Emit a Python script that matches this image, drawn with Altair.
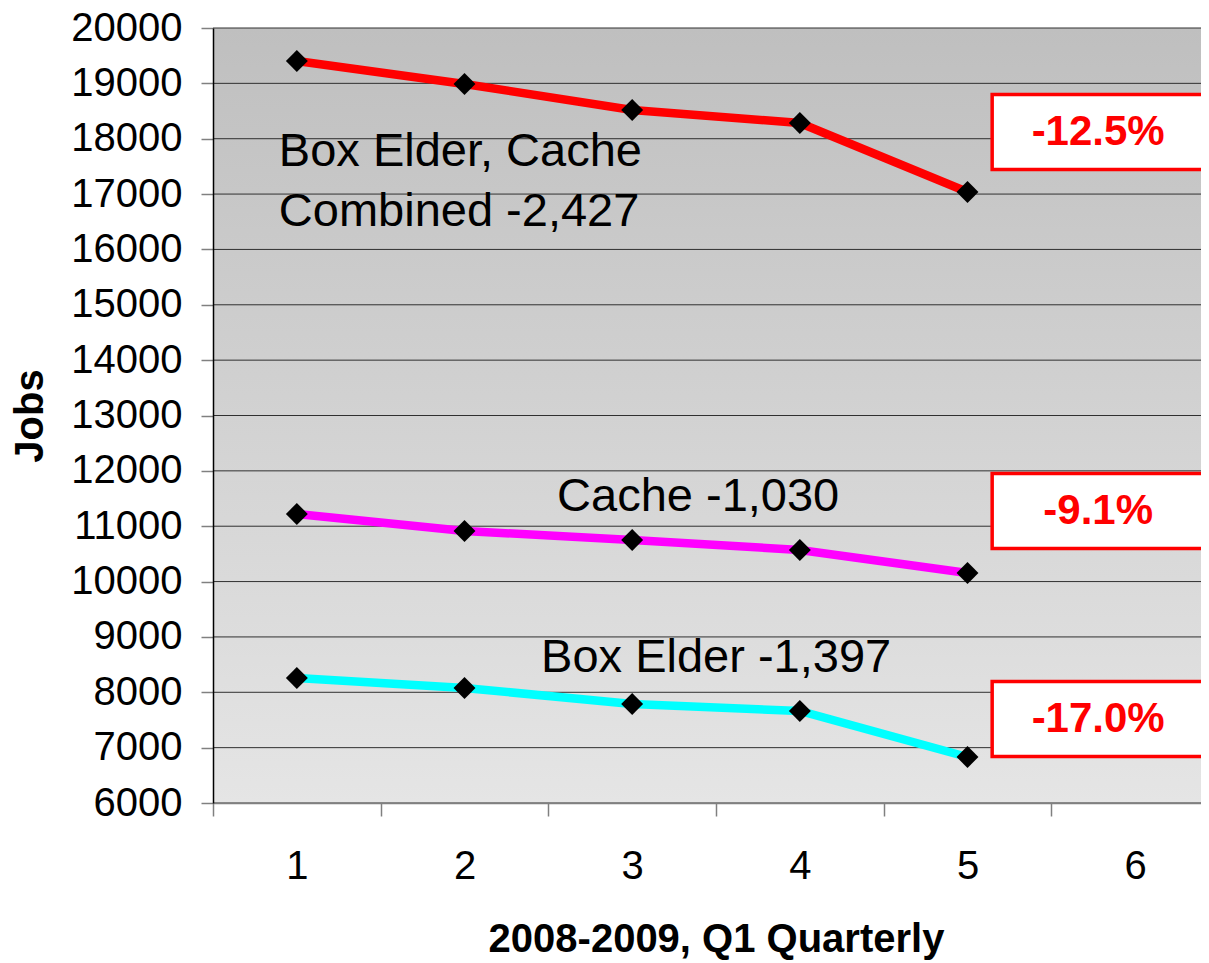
import altair as alt
import pandas as pd

# ---- data ----
x_domain = ["1", "2", "3", "4", "5", "6"]
quarters = ["1", "2", "3", "4", "5"]
combined = [19404, 18989, 18519, 18284, 17038]
cache = [11221, 10914, 10751, 10571, 10155]
box_elder = [8259, 8078, 7789, 7662, 6831]
series_names = ["Box Elder, Cache Combined", "Cache", "Box Elder"]
series_colors = ["#FF0000", "#FF00FF", "#00FFFF"]
y_ticks = list(range(6000, 20001, 1000))

pct_labels = ["-12.5%", "-9.1%", "-17.0%"]
pct_y = [18121, 11275, 7518]

combined_text = ["Box Elder, Cache", "Combined -2,427"]
combined_text_y = [17760, 16676]
cache_text = ["Cache -1,030"]
cache_text_y = [11528]
box_text = ["Box Elder -1,397"]
box_text_y = [8620]

# ---- tables ----
rows = []
for name, vals in zip(series_names, [combined, cache, box_elder]):
    for q, v in zip(quarters, vals):
        rows.append({"quarter": q, "jobs": v, "series": name})
df = pd.DataFrame(rows)

W, H = 988, 775
FONT = "Liberation Sans"

xscale = alt.Scale(type="band", domain=x_domain, range=[0, 1006],
                   paddingInner=0, paddingOuter=0)
yscale = alt.Scale(domain=[6000, 20000], nice=False, zero=False)

x_axis = alt.Axis(labelAngle=0, tickBand="extent", tickSize=13, tickColor="#808080",
                  tickWidth=1.5, domainColor="#808080", domainWidth=1.5, grid=False,
                  labelFont=FONT, labelFontSize=40, labelColor="black", labelPadding=30,
                  title="2008-2009, Q1 Quarterly", titleFont=FONT, titleFontSize=40,
                  titleFontWeight="bold", titleColor="black", titlePadding=33,
                  titleX=503, zindex=1)
y_axis = alt.Axis(values=y_ticks, format="d", tickSize=12, tickColor="#808080",
                  tickWidth=1.5, domainColor="black", domainWidth=1.5, grid=False,
                  labelFont=FONT, labelFontSize=40, labelColor="black", labelPadding=19,
                  title="Jobs", titleFont=FONT, titleFontSize=40, titleFontWeight="bold",
                  titleColor="black", titlePadding=20, zindex=1)

X = alt.X("quarter:O", scale=xscale, axis=x_axis, bandPosition=0.5)
Y = alt.Y("jobs:Q", scale=yscale, axis=y_axis)

bg = alt.Chart(pd.DataFrame({"a": [0]})).mark_rect(
    fill=alt.Gradient(gradient="linear",
                      stops=[alt.GradientStop(color="#bfbfbf", offset=0),
                             alt.GradientStop(color="#e5e5e5", offset=1)],
                      x1=0, x2=0, y1=0, y2=1)
).encode(x=alt.value(0), x2=alt.value(W), y=alt.value(0), y2=alt.value(H))

grid = alt.Chart(pd.DataFrame({"jobs": y_ticks})).mark_rule(
    color="#303030", strokeWidth=1
).encode(y=alt.Y("jobs:Q", scale=yscale, axis=y_axis))

lines = alt.Chart(df).mark_line(strokeWidth=8.5).encode(
    x=X, y=Y,
    color=alt.Color("series:N", scale=alt.Scale(domain=series_names, range=series_colors),
                    legend=None),
)
points = alt.Chart(df).mark_point(shape="diamond", filled=True, color="black",
                                  size=480, opacity=1).encode(x=X, y=Y, detail="series:N")

box_df = pd.DataFrame({"quarter": ["6"] * 3, "jobs": pct_y, "label": pct_labels})
boxes = alt.Chart(box_df).mark_point(
    shape="M-1,-0.354L1,-0.354L1,0.354L-1,0.354Z", size=212 * 212, filled=True,
    fill="white", stroke="#FF0000", strokeWidth=3.5, opacity=1, xOffset=-37
).encode(x=X, y=Y)
box_texts = alt.Chart(box_df).mark_text(
    font=FONT, fontSize=42, fontWeight="bold", color="#FF0000", align="center",
    baseline="middle", dx=-37
).encode(x=X, y=Y, text="label:N")

t1 = alt.Chart(pd.DataFrame({"quarter": ["1", "1"], "jobs": combined_text_y,
                             "label": combined_text})).mark_text(
    font=FONT, fontSize=47, color="black", align="left", baseline="middle", dx=-18
).encode(x=X, y=Y, text="label:N")
t2 = alt.Chart(pd.DataFrame({"quarter": ["3"], "jobs": cache_text_y,
                             "label": cache_text})).mark_text(
    font=FONT, fontSize=47, color="black", align="center", baseline="middle", dx=66
).encode(x=X, y=Y, text="label:N")
t3 = alt.Chart(pd.DataFrame({"quarter": ["3"], "jobs": box_text_y,
                             "label": box_text})).mark_text(
    font=FONT, fontSize=47, color="black", align="center", baseline="middle", dx=84
).encode(x=X, y=Y, text="label:N")

chart = alt.layer(bg, grid, lines, points, boxes, box_texts, t1, t2, t3).properties(
    width=W, height=H,
    autosize=alt.AutoSizeParams(type="none"),
    padding={"left": 205, "top": 20, "right": 0, "bottom": 160},
    background="white",
).configure_view(stroke=None)

chart.save("out.html", embed_options={"renderer": "svg", "actions": False})
